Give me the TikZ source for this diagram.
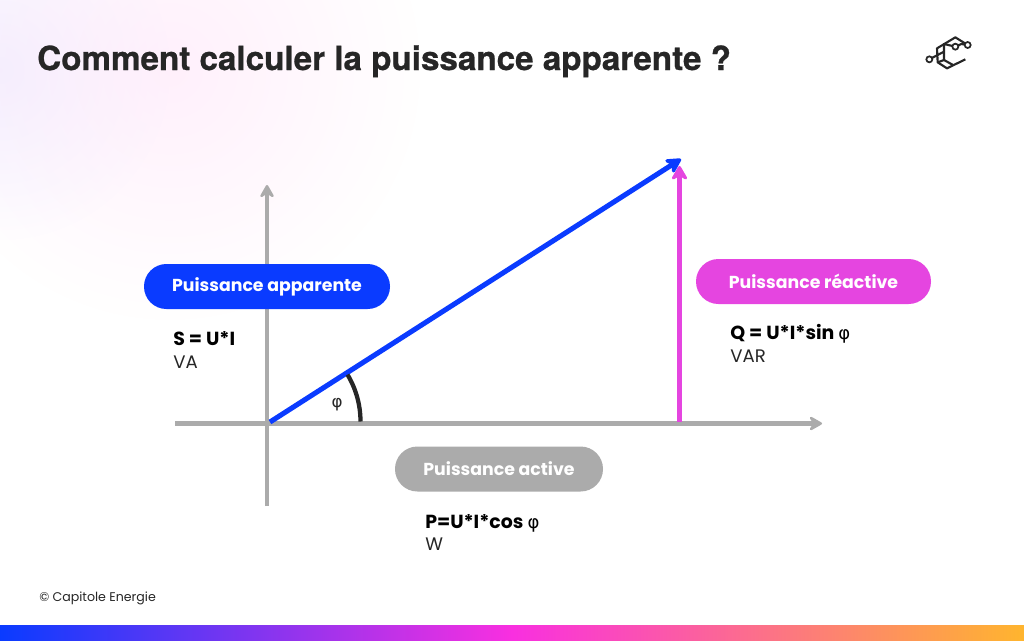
\documentclass[tikz,border=0pt]{standalone}
\usepackage{fontspec}
\setmainfont{Poppins}
\newfontfamily\phifont{DejaVu Sans}
\newfontfamily\titlefont[BoldFeatures={FakeBold=0.7}]{TeX Gyre Heros}
\usetikzlibrary{arrows.meta,fadings}
\definecolor{cblue}{HTML}{0A3BFF}
\definecolor{cmag}{HTML}{E545E0}
\definecolor{cgrey}{HTML}{ABABAB}
\definecolor{cdark}{HTML}{262626}
\tikzfading[name=softglow,inner color=transparent!0,outer color=transparent!100]
\tikzset{
  pill/.style={rounded corners=16.8pt,minimum height=33.75pt,inner sep=0pt,text=white,font=\fontsize{13}{15}\selectfont\bfseries,anchor=center},
  axisline/.style={draw=cgrey,line width=3.6pt,-{Stealth[round,length=12pt,width=13.5pt,inset=4.5pt]}},
  formula/.style={anchor=base west,inner sep=0pt,text=black,font=\fontsize{14.2}{16}\selectfont\bfseries},
  unitlabel/.style={anchor=base west,inner sep=0pt,text=cdark,font=\fontsize{13.6}{15}\selectfont},
  logoline/.style={draw=cdark,line width=1.6pt,line join=round},
  logodot/.style={circle,draw=cdark,line width=1.3pt,fill=white,minimum size=4.5pt,inner sep=0pt}
}
\begin{document}
\begin{tikzpicture}[x=0.75pt,y=-0.75pt]
\useasboundingbox (0,0) rectangle (1024,640);
\fill[white] (0,0) rectangle (1024,640);
\begin{scope}
\clip (0,0) rectangle (1024,640);
\fill[color={rgb,255:red,240;green,236;blue,255},opacity=0.8,path fading=softglow] (0,70) circle (170);
\fill[color={rgb,255:red,255;green,232;blue,250},opacity=0.65,path fading=softglow] (170,70) circle (250);
\end{scope}
\shade[left color=cblue,right color={rgb,255:red,255;green,181;blue,46},middle color={rgb,255:red,249;green,47;blue,224}] (0,625) rectangle (1024,640);

\node[anchor=base west,inner sep=0pt,text=cdark,font=\fontsize{24.9}{28}\selectfont\titlefont\bfseries] (title) at (37,70) {Comment calculer la puissance apparente ?};

% axes
\coordinate (xs) at (175,423.5);
\coordinate (xe) at (822,423.5);
\coordinate (ys) at (267,506);
\coordinate (ye) at (267,185);
\coordinate (O) at (270,422);
\coordinate (T) at (681,159);
\coordinate (Qb) at (679.5,422);
\coordinate (Qt) at (679.5,166);
\draw[axisline] (xs) -- (xe);
\draw[axisline] (ys) -- (ye);
\draw[draw=cmag,line width=3.8pt,-{Stealth[round,length=13pt,width=15pt,inset=4.5pt]}] (Qb) -- (Qt);
\draw[draw=cblue,line width=3.8pt,-{Stealth[round,length=14pt,width=15pt,inset=4.5pt]}] (O) -- (T);
\draw[draw=cdark,line width=3.2pt] (360.5,421.5) arc[start angle=0,end angle=-31,radius=91];
\node[inner sep=0pt,text=cdark,font=\fontsize{12.5}{14}\selectfont\phifont] (phi) at (337,405) {φ};

% pills
\node[pill,fill=cblue,minimum width=184.5pt] (papp) at (267,286.5) {Puissance apparente};
\node[pill,fill=cmag,minimum width=176.25pt] (prea) at (813.5,281.5) {Puissance réactive};
\node[pill,fill=cgrey,minimum width=156pt] (pact) at (499,469) {Puissance active};

% texts
\node[formula] (f1) at (173,345) {S = U*I};
\node[unitlabel] (u1) at (173,368) {VA};
\node[formula] (f2) at (730,339) {Q = U*I*sin {\normalfont\fontsize{13.5}{15}\selectfont\phifont φ}};
\node[unitlabel] (u2) at (730,362) {VAR};
\node[formula] (f3) at (425,528) {P=U*I*cos {\normalfont\fontsize{13.5}{15}\selectfont\phifont φ}};
\node[unitlabel] (u3) at (425,550) {W};
\node[anchor=base west,inner sep=0pt,text=cdark,font=\fontsize{9.45}{11}\selectfont] (copy) at (39,601) {© Capitole Energie};

% logo (coordinates taken from a 3x crop whose origin is (922,30))
\begin{scope}[shift={(922,30)},x=0.25pt,y=-0.25pt]
\coordinate (p1) at (45,55);
\coordinate (p2) at (100,22);
\coordinate (p3) at (137,45);
\coordinate (p4) at (47,97);
\coordinate (p5) at (75,115);
\coordinate (p6) at (130,88);
\coordinate (q1) at (66,42);
\coordinate (q2) at (66,90);
\coordinate (q3) at (93,105);
\coordinate (q4) at (66,65);
\coordinate (md) at (100,50);
\coordinate (ld) at (22,88);
\coordinate (bp) at (118,42);
\draw[logoline] (p3) -- (p2) -- (p1) -- (p4) -- (p5) -- (p6);
\draw[logoline] (p3) -- (bp) -- (md) -- (q1) -- (q2) -- (q3);
\draw[logoline] (p4) -- (q2);
\draw[logoline] (ld) -- (q4);
\node[logodot] (d1) at (ld) {};
\node[logodot] (d2) at (p3) {};
\node[logodot] (d3) at (md) {};
\end{scope}
\end{tikzpicture}
\end{document}
